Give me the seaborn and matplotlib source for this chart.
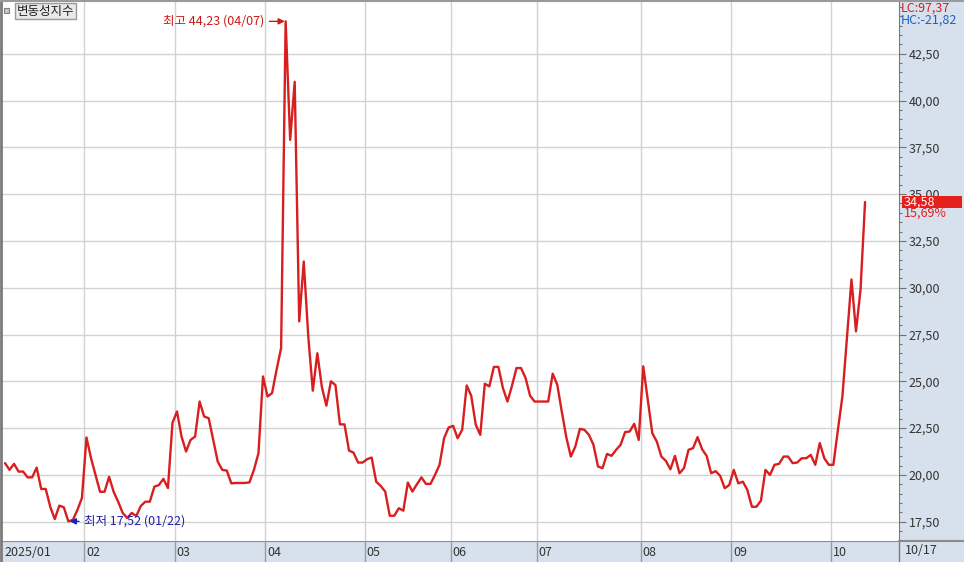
import numpy as np
import pandas as pd
import seaborn as sns
import matplotlib.pyplot as plt
from matplotlib.patches import Rectangle
from matplotlib.lines import Line2D
from matplotlib.ticker import MultipleLocator, FixedLocator, FuncFormatter

# daily closes, one list per month (trading days only)
jan = [20.63, 20.27, 20.59, 20.18, 20.18, 19.87, 19.87, 20.39, 19.25, 19.25,
       18.30, 17.64, 18.36, 18.27, 17.52, 17.60, 18.13, 18.77]
feb = [22.00, 20.90, 20.00, 19.10, 19.10, 19.90, 19.10, 18.57, 17.97, 17.70,
       17.97, 17.80, 18.34, 18.57, 18.57, 19.37, 19.46, 19.79, 19.30, 22.78]
mar = [23.39, 22.05, 21.25, 21.87, 22.05, 23.92, 23.12, 23.03, 21.87, 20.71,
       20.27, 20.23, 19.55, 19.57, 19.57, 19.57, 19.60, 20.27, 21.16, 25.26]
apr = [24.19, 24.37, 25.62, 26.78, 44.23, 37.90, 41.00, 28.20, 31.40, 27.40,
       24.50, 26.50, 24.70, 23.70, 25.00, 24.80, 22.70, 22.70, 21.30, 21.19,
       20.66, 20.66]
may = [20.84, 20.93, 19.64, 19.41, 19.11, 17.82, 17.82, 18.22, 18.09, 19.59,
       19.11, 19.50, 19.87, 19.52, 19.52, 20.00, 20.54, 21.96, 22.53]
jun = [22.62, 21.96, 22.41, 24.78, 24.23, 22.68, 22.14, 24.87, 24.73, 25.77,
       25.77, 24.64, 23.92, 24.76, 25.71, 25.71, 25.18, 24.23, 23.92]
jul = [23.92, 23.92, 23.92, 25.41, 24.82, 23.39, 22.02, 20.98, 21.52, 22.46,
       22.41, 22.14, 21.61, 20.45, 20.36, 21.12, 21.02, 21.34, 21.61, 22.29,
       22.32, 22.73, 21.87]
aug = [25.80, 24.00, 22.23, 21.78, 20.98, 20.75, 20.30, 21.02, 20.09, 20.36,
       21.34, 21.43, 22.02, 21.37, 21.02, 20.09, 20.20, 19.95, 19.29, 19.46]
sep = [20.27, 19.55, 19.64, 19.20, 18.30, 18.30, 18.62, 20.27, 20.00, 20.54,
       20.59, 20.98, 20.98, 20.63, 20.66, 20.89, 20.89, 21.07, 20.54, 21.70,
       20.89, 20.54]
oct_ = [20.54, 22.40, 24.20, 27.30, 30.44, 27.67, 29.89, 34.58]

months = [jan, feb, mar, apr, may, jun, jul, aug, sep, oct_]
month_labels = ['2025/01', '02', '03', '04', '05', '06', '07', '08', '09', '10']
y_ticks = [17.5, 20.0, 22.5, 25.0, 27.5, 30.0, 32.5, 35.0, 37.5, 40.0, 42.5]
last_date = '10/17'
high_date, low_date = '04/07', '01/22'
lc_text, hc_text = 'LC:97,37', 'HC:-21,82'

values = [v for m in months for v in m]
starts = np.cumsum([0] + [len(m) for m in months[:-1]])
df = pd.DataFrame({'day': np.arange(len(values)), 'vix': values})


def comma(v, digits=2):
    return f'{v:.{digits}f}'.replace('.', ',')


sns.set_style('white')
plt.rcParams['font.family'] = ['Noto Sans CJK KR', 'DejaVu Sans']

W, H = 964, 562
RED = '#d81e1e'
BLUE = '#1c1cc8'
PANEL = '#d7e1ed'
GRID = '#d2d2d2'

fig = plt.figure(figsize=(W / 100, H / 100), dpi=100)
fig.add_artist(Rectangle((899 / W, 0), 65 / W, 1, transform=fig.transFigure,
                         facecolor=PANEL, edgecolor='none', zorder=-2))

ax = fig.add_axes([2 / W, 21 / H, 897 / W, 541 / H])
sns.lineplot(data=df, x='day', y='vix', ax=ax, color=RED, linewidth=1.7)
ax.set_xlim(-0.66, 197.5)
ax.set_ylim(16.47, 45.37)
ax.set_xlabel('')
ax.set_ylabel('')
ax.set_xticks([])

ax.yaxis.tick_right()
ax.yaxis.set_major_locator(FixedLocator(y_ticks))
ax.yaxis.set_minor_locator(MultipleLocator(0.5))
ax.yaxis.set_major_formatter(FuncFormatter(lambda v, p: comma(v)))
ax.tick_params(axis='y', which='major', length=5, width=0.8, color='#707070',
               labelsize=9, labelcolor='#333333', pad=2)
ax.tick_params(axis='y', which='minor', length=2.5, width=0.8, color='#707070')
ax.grid(axis='y', which='major', color=GRID, lw=1)
for s in starts[1:]:
    ax.axvline(s - 0.55, color=GRID, lw=1, zorder=0)
for side in ['top', 'left', 'bottom']:
    ax.spines[side].set_visible(False)
ax.spines['right'].set_color('#7a7a7a')

# high / low annotations
imax = int(np.argmax(values))
imin = int(np.argmin(values))
ax.annotate(f'최고 {comma(values[imax])} ({high_date})', xy=(imax - 0.2, values[imax]),
            xytext=(-20, 0), textcoords='offset pixels', ha='right', va='center',
            color='#cc1a1a', fontsize=9,
            arrowprops=dict(arrowstyle='-|>', color='#cc1a1a', lw=1,
                            shrinkA=1, shrinkB=0, mutation_scale=9))
ax.annotate(f'최저 {comma(values[imin])} ({low_date})', xy=(imin + 0.3, values[imin]),
            xytext=(14, 0), textcoords='offset pixels', ha='left', va='center',
            color='#2020a8', fontsize=9,
            arrowprops=dict(arrowstyle='-|>', color=BLUE, lw=1,
                            shrinkA=1, shrinkB=0, mutation_scale=9))

# current value marker on the right scale
last = values[-1]
pct = (values[-1] / values[-2] - 1) * 100
ytr = ax.get_yaxis_transform()
ax.add_patch(Rectangle(((902 - 2) / 897, last - 0.34), 60 / 897, 0.68,
                       transform=ytr, facecolor='#e3201b', edgecolor='none',
                       clip_on=False, zorder=5))
ax.text((904 - 2) / 897, last, comma(last), transform=ytr, ha='left', va='center',
        color='white', fontsize=9, zorder=6, clip_on=False)
ax.text((904 - 2) / 897, last - 0.62, comma(pct) + '%', transform=ytr, ha='left',
        va='center', color='#e3201b', fontsize=9, zorder=6, clip_on=False)

# bottom month band
band = fig.add_axes([2 / W, 0, 897 / W, 21 / H])
band.set_facecolor(PANEL)
band.set_xlim(ax.get_xlim())
band.set_ylim(0, 1)
band.set_xticks([])
band.set_yticks([])
for sp in band.spines.values():
    sp.set_visible(False)
band.axhline(1, color='#8a8a8a', lw=1.5)
for s, lab in zip(starts, month_labels):
    if s > 0:
        band.axvline(s - 0.55, color='#9a9a9a', lw=1)
    band.text(max(s - 0.55, -0.66) + 0.45, 0.45, lab, ha='left', va='center',
              fontsize=9, color='#333333')
fig.text(905 / W, 11 / H, last_date, ha='left', va='center', fontsize=9, color='#333333')
fig.add_artist(Line2D([899 / W, 899 / W], [0, 21 / H], color='#7a7a7a', lw=1))
fig.add_artist(Line2D([899 / W, 1], [21 / H, 21 / H], color='#8a8a8a', lw=1.5))

# frame and header labels
fig.add_artist(Line2D([1 / W, 1 / W], [0, 1], color='#7a7a7a', lw=2))
fig.add_artist(Line2D([0, 1], [1 - 0.5 / H, 1 - 0.5 / H], color='#9a9a9a', lw=1.5))
fig.add_artist(Rectangle((4 / W, 1 - 13 / H), 5 / W, 5 / H, transform=fig.transFigure,
                         facecolor='#c8c8c8', edgecolor='#808080', lw=0.8))
fig.text(17 / W, 1 - 11 / H, '변동성지수', ha='left', va='center', fontsize=9,
         color='#222222',
         bbox=dict(boxstyle='square,pad=0.15', facecolor='#e8e8e8',
                   edgecolor='#9a9a9a', lw=1))
fig.text(901 / W, 1 - 8 / H, lc_text, ha='left', va='center', fontsize=9, color='#d42020')
fig.text(901 / W, 1 - 20 / H, hc_text, ha='left', va='center', fontsize=9, color='#2060c0')

fig.savefig('out.png', dpi=100)
